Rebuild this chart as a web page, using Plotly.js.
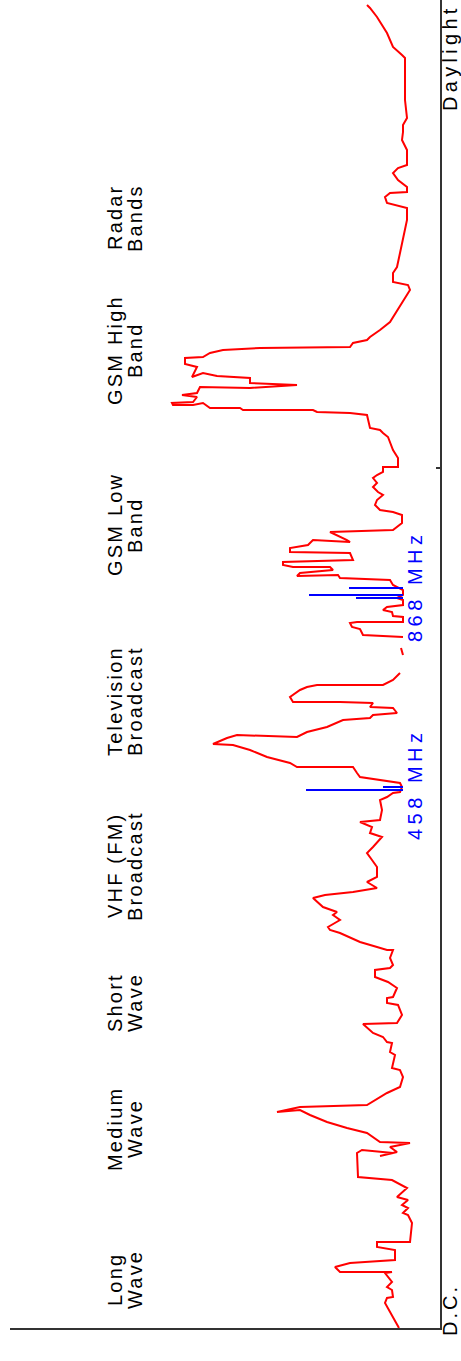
<!DOCTYPE html>
<html><head><meta charset="utf-8">
<script src="https://cdn.plot.ly/plotly-3.0.1.min.js"></script>
<style>html,body{margin:0;padding:0;background:#fff;}#chart{width:461px;height:1361px;}</style>
</head><body><div id="chart"></div>
<script>
// Spectrum trace: frequency position (D.C. = 0 → Daylight) and signal level
const spectrumFreq = [
 0,16,25,30,31,38,41,46,55,56,56,61,65,66,68,78,81,86,86,105,113,115,120,123,128,131,140,148,150,151,175,178,175,172,176,181,185,186,195,200,206,213,218,216,221,223,235,
 241,251,258,260,273,276,285,286,291,295,304,305,313,323,325,330,331,340,346,351,358,360,363,370,378,378,381,386,395,398,401,408,413,416,421,430,433,436,440,446,451,
 461,468,475,481,491,495,501,506,508,518,528,531,535,536,541,545,548,551,555,561,561,565,571,578,583,584,590,593,591,596,601,608,610,613,615,620,621,625,626,626,631,638,641,643,643,648,655,null,673,680,null,
 691,693,699,701,705,706,706,711,712,716,718,721,723,728,730,733,738,743,748,750,753,752,755,758,761,761,763,766,768,775,776,780,783,788,786,788,796,798,805,813,816,818,823,828,833,836,841,845,850,853,856,
 861,861,870,878,885,891,895,898,900,908,913,915,916,918,918,920,920,925,923,923,925,926,931,933,935,941,940,943,945,950,952,955,951,961,964,970,971,975,978,980,981,985,988,991,998,1006,1038,1043,1046,1055,1061,1075,1088,1108,
 1120,1125,1131,1135,1136,1141,1148,1155,1160,1163,1178,1188,1196,1203,1210,1228,1241,1270,1273,1281,1295,1301,1311,1320,1323
];
const spectrumLevel = [
 41,50,55,53,47,48,53,48,55,48,100,105,90,75,45,45,63,63,30,28,32,37,32,38,32,43,33,48,67,82,83,78,47,60,43,50,30,60,73,93,113,130,140,163,140,73,53,
 40,37,40,48,45,50,48,53,57,67,77,43,38,42,53,53,47,43,52,65,65,50,47,50,47,53,63,80,100,110,112,100,107,103,117,127,115,87,63,73,63,
 63,68,73,67,58,70,68,80,60,58,60,53,47,40,38,40,58,80,83,87,143,150,173,190,207,227,213,203,143,133,113,97,70,67,43,47,70,67,100,147,150,140,133,123,57,47,40,null,37,39,null,
 37,77,80,88,90,83,37,37,47,48,57,53,37,37,43,37,37,47,50,100,102,143,140,107,110,147,157,157,87,90,150,150,132,127,90,93,110,47,38,38,47,60,65,63,57,62,67,63,67,63,57,
 57,42,42,47,50,52,57,60,70,72,73,90,123,127,197,200,230,237,247,267,268,247,243,258,243,240,190,143,190,190,223,237,248,243,255,255,237,230,217,180,90,87,73,70,60,50,30,32,47,47,43,40,37,33,
 33,53,55,50,33,33,42,47,42,33,33,38,37,37,33,35,35,35,38,47,53,57,63,70,73
];

// Blue marker spikes (458 MHz and 868 MHz)
const markerBase = 37;
const markerFreq = [538, 541, 730, 733, 740];
const markerLevel = [134, 57, 84, 131, 91];
const markerLabels = ["458 MHz", "868 MHz"];
const markerLabelFreq = [544, 742];

// Band labels
const bandLine1 = ["Long","Medium","Short","VHF (FM)","Television","GSM Low","GSM High","Radar"];
const bandLine2 = ["Wave","Wave","Wave","Broadcast","Broadcast","Band","Band","Bands"];
const bandCenter = [48, 199, 325, 462, 627, 803, 978, 1110];

// Axis end labels
const endLabels = ["D.C.", "Daylight"];
const endLabelFreq = [18, 1270];

const L = 10, R = 440;
const px2paper = px => (px - L) / (R - L);

const mx = [], my = [];
for (let i = 0; i < markerFreq.length; i++) {
  mx.push(markerBase, markerLevel[i], null);
  my.push(markerFreq[i], markerFreq[i], null);
}

const traces = [
  {x: spectrumLevel, y: spectrumFreq, type: 'scatter', mode: 'lines',
   line: {color: '#ff0000', width: 2}, connectgaps: false, hoverinfo: 'skip'},
  {x: mx, y: my, type: 'scatter', mode: 'lines',
   line: {color: '#0000ff', width: 2}, hoverinfo: 'skip'}
];

const fam = 'Liberation Sans, Arial, sans-serif';
const ann = [];
function sp(t, ls) { return '<span style="letter-spacing:' + ls + 'px">' + t + '</span>'; }
for (let i = 0; i < bandLine1.length; i++) {
  ann.push({xref: 'paper', yref: 'y', x: px2paper(115), y: bandCenter[i], text: sp(bandLine1[i], 2.2),
    textangle: -90, showarrow: false, xanchor: 'center', yanchor: 'middle',
    font: {family: fam, size: 20, color: '#000'}});
  ann.push({xref: 'paper', yref: 'y', x: px2paper(135), y: bandCenter[i], text: sp(bandLine2[i], 2.2),
    textangle: -90, showarrow: false, xanchor: 'center', yanchor: 'middle',
    font: {family: fam, size: 20, color: '#000'}});
}
for (let i = 0; i < markerLabels.length; i++) {
  ann.push({xref: 'paper', yref: 'y', x: px2paper(415), y: markerLabelFreq[i], text: sp(markerLabels[i], 4.5),
    textangle: -90, showarrow: false, xanchor: 'center', yanchor: 'middle',
    font: {family: fam, size: 20, color: '#0000ff'}});
}
const endLs = [3, 4.3];
for (let i = 0; i < endLabels.length; i++) {
  ann.push({xref: 'paper', yref: 'y', x: px2paper(450), y: endLabelFreq[i], text: sp(endLabels[i], endLs[i]),
    textangle: -90, showarrow: false, xanchor: 'center', yanchor: 'middle',
    font: {family: fam, size: 20, color: '#000'}});
}

const layout = {
  width: 461, height: 1361,
  margin: {l: L, r: 461 - R, t: 0, b: 33},
  paper_bgcolor: '#fff', plot_bgcolor: '#fff',
  showlegend: false,
  xaxis: {range: [430, 0], autorange: false, showgrid: false, zeroline: false,
    showline: true, linecolor: '#333', linewidth: 2, ticks: 'inside', tickvals: [430],
    ticklen: 6, tickwidth: 2, tickcolor: '#333', showticklabels: false, fixedrange: true},
  yaxis: {range: [0, 1328], autorange: false, side: 'right', showgrid: false, zeroline: false,
    showline: true, linecolor: '#333', linewidth: 2, ticks: 'inside', tickvals: [860],
    ticklen: 4, tickwidth: 1.5, tickcolor: '#333', showticklabels: false, fixedrange: true},
  annotations: ann
};

Plotly.newPlot('chart', traces, layout, {displayModeBar: false, staticPlot: true});
</script></body></html>
